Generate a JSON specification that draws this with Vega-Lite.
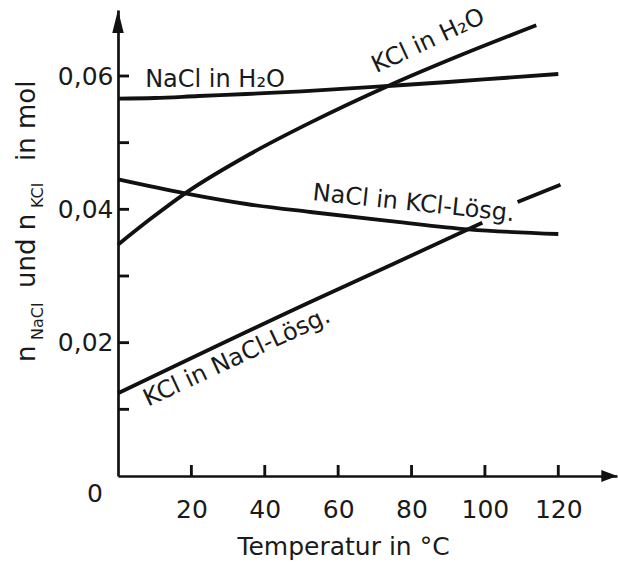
{
  "$schema": "https://vega.github.io/schema/vega-lite/v6.json",
  "width": 499,
  "height": 466,
  "autosize": {"type": "none"},
  "padding": {"left": 118, "top": 10, "right": 1, "bottom": 90},
  "background": "white",
  "config": {
    "view": {"stroke": null},
    "font": "DejaVu Sans",
    "axis": {
      "domainColor": "#111",
      "domainWidth": 2.7,
      "ticks": false,
      "labelColor": "#1a1a1a",
      "labelFont": "DejaVu Sans",
      "labelFontSize": 25,
      "grid": false,
      "titleFont": "DejaVu Sans",
      "titleFontWeight": "normal",
      "titleColor": "#1a1a1a"
    }
  },
  "datasets": {
    "curves": [
      {"series": "NaCl in H2O", "part": "a", "t": 0, "n": 0.0566},
      {"series": "NaCl in H2O", "part": "a", "t": 10, "n": 0.0567},
      {"series": "NaCl in H2O", "part": "a", "t": 22, "n": 0.0570},
      {"series": "NaCl in H2O", "part": "a", "t": 35, "n": 0.0573},
      {"series": "NaCl in H2O", "part": "a", "t": 50, "n": 0.0577},
      {"series": "NaCl in H2O", "part": "a", "t": 73.6, "n": 0.0585},
      {"series": "NaCl in H2O", "part": "a", "t": 90, "n": 0.0591},
      {"series": "NaCl in H2O", "part": "a", "t": 105, "n": 0.0597},
      {"series": "NaCl in H2O", "part": "a", "t": 120, "n": 0.0603},
      {"series": "KCl in H2O", "part": "a", "t": 0, "n": 0.0347},
      {"series": "KCl in H2O", "part": "a", "t": 8.7, "n": 0.0385},
      {"series": "KCl in H2O", "part": "a", "t": 18.3, "n": 0.0424},
      {"series": "KCl in H2O", "part": "a", "t": 36, "n": 0.0483},
      {"series": "KCl in H2O", "part": "a", "t": 52.4, "n": 0.0530},
      {"series": "KCl in H2O", "part": "a", "t": 73.6, "n": 0.0585},
      {"series": "KCl in H2O", "part": "a", "t": 93.3, "n": 0.0631},
      {"series": "KCl in H2O", "part": "a", "t": 114, "n": 0.0676},
      {"series": "NaCl in KCl", "part": "a", "t": 0, "n": 0.0445},
      {"series": "NaCl in KCl", "part": "a", "t": 18.3, "n": 0.0424},
      {"series": "NaCl in KCl", "part": "a", "t": 35, "n": 0.0408},
      {"series": "NaCl in KCl", "part": "a", "t": 52.4, "n": 0.0396},
      {"series": "NaCl in KCl", "part": "a", "t": 75, "n": 0.0382},
      {"series": "NaCl in KCl", "part": "a", "t": 95.5, "n": 0.0370},
      {"series": "NaCl in KCl", "part": "a", "t": 120, "n": 0.0363},
      {"series": "KCl in NaCl", "part": "a", "t": 0, "n": 0.0124},
      {"series": "KCl in NaCl", "part": "a", "t": 52.4, "n": 0.0261},
      {"series": "KCl in NaCl", "part": "a", "t": 75, "n": 0.0318},
      {"series": "KCl in NaCl", "part": "a", "t": 99.3, "n": 0.0380},
      {"series": "KCl in NaCl", "part": "b", "t": 108.9, "n": 0.0411},
      {"series": "KCl in NaCl", "part": "b", "t": 120.6, "n": 0.0437}
    ],
    "labels": [
      {"series": "NaCl in H2O", "label": "NaCl in H₂O", "t": 7.4, "n": 0.0583},
      {"series": "KCl in H2O", "label": "KCl in H₂O", "t": 70.4, "n": 0.0604},
      {"series": "NaCl in KCl", "label": "NaCl in KCl-Lösg.", "t": 52.9, "n": 0.0414},
      {"series": "KCl in NaCl", "label": "KCl in NaCl-Lösg.", "t": 8.2, "n": 0.0104}
    ],
    "ytitle": [
      {"role": "main", "text": "n", "t": -22.6, "n": 0.0171},
      {"role": "sub", "text": "NaCl", "t": -20.5, "n": 0.0204},
      {"role": "main", "text": "und n", "t": -22.6, "n": 0.0282},
      {"role": "sub", "text": "KCl", "t": -20.5, "n": 0.0402},
      {"role": "main", "text": "in mol", "t": -22.6, "n": 0.04725}
    ],
    "xticks": [
      {"t": 20, "n": 0}, {"t": 40, "n": 0}, {"t": 60, "n": 0},
      {"t": 80, "n": 0}, {"t": 100, "n": 0}, {"t": 120, "n": 0}
    ],
    "yticks": [
      {"t": 0, "n": 0.01}, {"t": 0, "n": 0.02}, {"t": 0, "n": 0.03},
      {"t": 0, "n": 0.04}, {"t": 0, "n": 0.05}, {"t": 0, "n": 0.06}
    ],
    "origin": [{"t": 0, "n": 0, "label": "0"}],
    "yarrow": [{"t": 0, "n": 0.06817}],
    "xarrow": [{"t": 133.9, "n": 0}]
  },
  "layer": [
    {
      "data": {"name": "curves"},
      "mark": {"type": "line", "stroke": "#111", "strokeWidth": 3.8, "strokeCap": "butt", "interpolate": "monotone"},
      "encoding": {
        "x": {
          "field": "t",
          "type": "quantitative",
          "scale": {"domain": [0, 136], "nice": false, "zero": false},
          "axis": {
            "values": [20, 40, 60, 80, 100, 120],
            "labelPadding": 21,
            "title": "Temperatur in °C",
            "titleFontSize": 25,
            "titleX": 225,
            "titlePadding": 12
          }
        },
        "y": {
          "field": "n",
          "type": "quantitative",
          "scale": {"domain": [0, 0.0699], "nice": false, "zero": false},
          "axis": {
            "values": [0.01, 0.02, 0.03, 0.04, 0.05, 0.06],
            "labelPadding": 5,
            "labelExpr": "round(datum.value*100) % 2 == 0 ? replace(format(datum.value, '.2f'), '.', ',') : ''",
            "title": null
          }
        },
        "detail": [{"field": "series"}, {"field": "part"}]
      }
    },
    {
      "data": {"name": "xticks"},
      "mark": {"type": "point", "shape": "M-0.13,0L0.13,0L0.13,-1L-0.13,-1Z", "size": 484, "filled": true, "color": "#111", "opacity": 1},
      "encoding": {"x": {"field": "t", "type": "quantitative"}, "y": {"field": "n", "type": "quantitative"}}
    },
    {
      "data": {"name": "yticks"},
      "mark": {"type": "point", "shape": "M0,-0.13L1,-0.13L1,0.13L0,0.13Z", "size": 484, "filled": true, "color": "#111", "opacity": 1},
      "encoding": {"x": {"field": "t", "type": "quantitative"}, "y": {"field": "n", "type": "quantitative"}}
    },
    {
      "data": {"name": "labels"},
      "transform": [{"filter": "datum.series == 'NaCl in H2O'"}],
      "mark": {"type": "text", "font": "DejaVu Sans", "fontSize": 24, "color": "#1a1a1a", "align": "left", "baseline": "alphabetic"},
      "encoding": {"x": {"field": "t", "type": "quantitative"}, "y": {"field": "n", "type": "quantitative"}, "text": {"field": "label"}}
    },
    {
      "data": {"name": "labels"},
      "transform": [{"filter": "datum.series == 'KCl in H2O' || datum.series == 'KCl in NaCl'"}],
      "mark": {"type": "text", "font": "DejaVu Sans", "fontSize": 24, "color": "#1a1a1a", "align": "left", "baseline": "alphabetic", "angle": 335},
      "encoding": {"x": {"field": "t", "type": "quantitative"}, "y": {"field": "n", "type": "quantitative"}, "text": {"field": "label"}}
    },
    {
      "data": {"name": "labels"},
      "transform": [{"filter": "datum.series == 'NaCl in KCl'"}],
      "mark": {"type": "text", "font": "DejaVu Sans", "fontSize": 24, "color": "#1a1a1a", "align": "left", "baseline": "alphabetic", "angle": 6},
      "encoding": {"x": {"field": "t", "type": "quantitative"}, "y": {"field": "n", "type": "quantitative"}, "text": {"field": "label"}}
    },
    {
      "data": {"name": "ytitle"},
      "transform": [{"filter": "datum.role == 'main'"}],
      "mark": {"type": "text", "font": "DejaVu Sans", "fontSize": 26, "color": "#1a1a1a", "align": "left", "baseline": "alphabetic", "angle": 270},
      "encoding": {"x": {"field": "t", "type": "quantitative"}, "y": {"field": "n", "type": "quantitative"}, "text": {"field": "text"}}
    },
    {
      "data": {"name": "ytitle"},
      "transform": [{"filter": "datum.role == 'sub'"}],
      "mark": {"type": "text", "font": "DejaVu Sans", "fontSize": 16, "color": "#1a1a1a", "align": "left", "baseline": "alphabetic", "angle": 270},
      "encoding": {"x": {"field": "t", "type": "quantitative"}, "y": {"field": "n", "type": "quantitative"}, "text": {"field": "text"}}
    },
    {
      "data": {"name": "origin"},
      "mark": {"type": "text", "font": "DejaVu Sans", "fontSize": 25, "color": "#1a1a1a", "align": "center", "baseline": "middle", "dx": -23, "dy": 18},
      "encoding": {"x": {"field": "t", "type": "quantitative"}, "y": {"field": "n", "type": "quantitative"}, "text": {"field": "label"}}
    },
    {
      "data": {"name": "yarrow"},
      "mark": {"type": "point", "shape": "M0,-1L0.5,1L-0.5,1Z", "size": 529, "filled": true, "color": "#111", "opacity": 1},
      "encoding": {"x": {"field": "t", "type": "quantitative"}, "y": {"field": "n", "type": "quantitative"}}
    },
    {
      "data": {"name": "xarrow"},
      "mark": {"type": "point", "shape": "M1,0L-1,-0.75L-1,0.75Z", "size": 256, "filled": true, "color": "#111", "opacity": 1},
      "encoding": {"x": {"field": "t", "type": "quantitative"}, "y": {"field": "n", "type": "quantitative"}}
    }
  ]
}
